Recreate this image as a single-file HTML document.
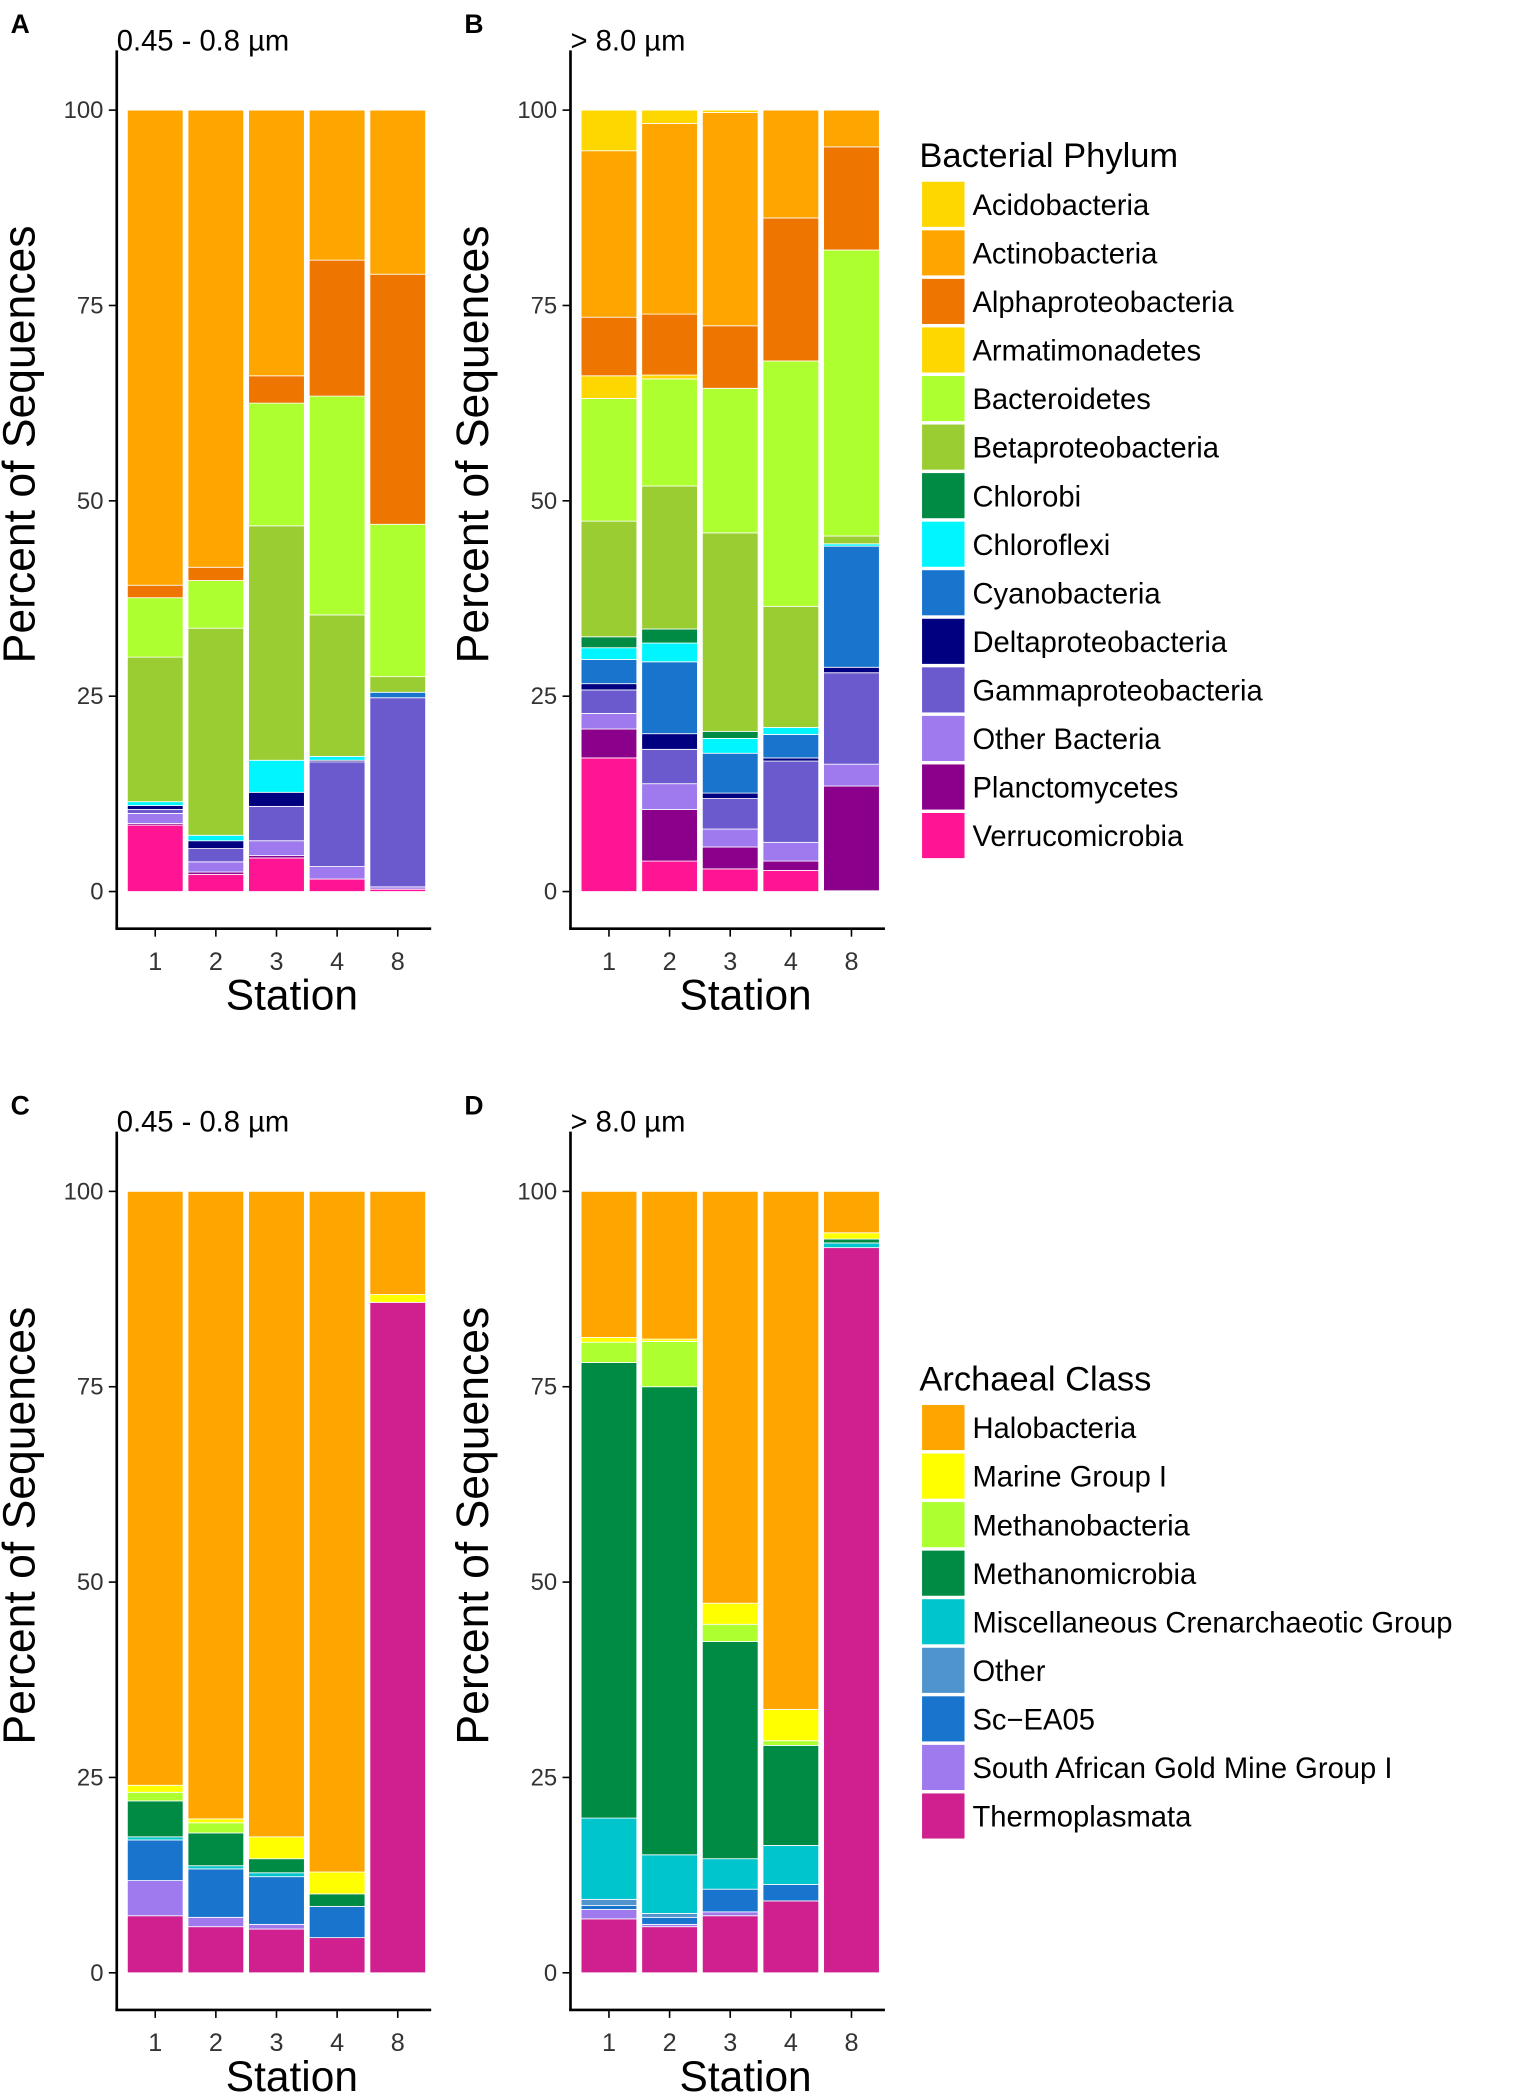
<!DOCTYPE html>
<html><head><meta charset="utf-8"><style>
html,body{margin:0;padding:0;background:#fff;}
svg{display:block;font-family:"Liberation Sans",Arial,sans-serif;}
</style></head><body>
<svg id="fig" width="1535" height="2093" viewBox="0 0 1157 1577.6" xmlns="http://www.w3.org/2000/svg"></svg>
<script>
const stations = ["1","2","3","4","8"];
const yTicks = [0,25,50,75,100];
const bacTaxa = ["Verrucomicrobia","Planctomycetes","Other Bacteria","Gammaproteobacteria","Deltaproteobacteria","Cyanobacteria","Chloroflexi","Chlorobi","Betaproteobacteria","Bacteroidetes","Armatimonadetes","Alphaproteobacteria","Actinobacteria","Acidobacteria"];
const bacColors = ["#FF1493","#8B008B","#9F79EE","#6A5ACD","#000080","#1874CD","#00F5FF","#008B45","#9ACD32","#ADFF2F","#FFD700","#EE7600","#FFA500","#FFD700"];
const bacA = [
 [8.5,2.2,4.3,1.6,0.3],[0.2,0.3,0.3,0,0],[1.3,1.3,1.9,1.6,0.3],[0.5,1.7,4.4,13.4,24.2],
 [0.5,1.0,1.8,0.2,0],[0,0,0,0,0.7],[0.5,0.7,4.1,0.5,0],[0,0,0,0,0],
 [18.5,26.5,30,18.1,2],[7.6,6.1,15.7,28,19.5],[0,0,0,0,0],[1.6,1.7,3.5,17.4,32],
 [60.8,58.5,34,19.2,21],[0,0,0,0,0]];
const bacB = [
 [17.1,3.9,2.9,2.7,0.1],[3.7,6.6,2.8,1.2,13.4],[2.0,3.3,2.3,2.4,2.8],[3.0,4.4,3.9,10.4,11.7],
 [0.8,2.0,0.7,0.4,0.7],[3.1,9.2,5.1,3.0,15.5],[1.5,2.4,1.9,0.9,0.3],[1.4,1.8,0.9,0,0],
 [14.8,18.3,25.4,15.5,1.0],[15.7,13.7,18.5,31.4,36.6],[2.9,0.5,0,0,0],[7.5,7.8,8.0,18.3,13.2],
 [21.3,24.4,27.3,13.8,4.7],[5.2,1.7,0.3,0,0]];
const arcTaxa = ["Thermoplasmata","South African Gold Mine Group I","Sc\u2212EA05","Other","Miscellaneous Crenarchaeotic Group","Methanomicrobia","Methanobacteria","Marine Group I","Halobacteria"];
const arcColors = ["#D02090","#9F79EE","#1874CD","#4F94CD","#00C5CD","#008B45","#ADFF2F","#FFFF00","#FFA500"];
const arcC = [
 [7.3,5.9,5.6,4.5,85.8],[4.5,1.2,0.6,0,0],[5.2,6.2,6.1,4.0,0],[0,0,0,0,0],[0.4,0.4,0.5,0,0],
 [4.6,4.2,1.8,1.6,0],[1.1,1.3,0,0,0],[0.9,0.5,2.8,2.8,1.0],[76,80.3,82.6,87.1,13.2]];
const arcD = [
 [6.9,5.9,7.3,9.2,92.8],[1.2,0.3,0.5,0,0],[0.5,0.9,2.9,2.1,0],[0.8,0.5,0,0,0],[10.4,7.5,3.9,5.0,0.6],
 [58.3,59.9,27.8,12.8,0.5],[2.6,5.8,2.2,0.6,0],[0.6,0.3,2.7,4.0,0.8],[18.7,18.9,52.7,66.3,5.3]];

const NS="http://www.w3.org/2000/svg";
const svg=document.getElementById('fig');
function mk(tag,attrs,parent){const e=document.createElementNS(NS,tag);for(const k in attrs)e.setAttribute(k,attrs[k]);(parent||svg).appendChild(e);return e;}
function txt(s,attrs,parent){const e=mk('text',attrs,parent);e.textContent=s;return e;}

function panel(letter,sub,ox,oy,data,colors,taxa,name){
  const g=mk('g',{});
  
  
  const y100=oy+83, y0=oy+672;
  const yS=v=>y0+(y100-y0)*v/100;
  const xC=i=>ox+29+i*45.7;
  const bw=42;
  let t=txt(letter,{x:ox-80,y:oy+25,'font-size':20,'font-weight':'bold'},g);
  
  
  t=txt(sub,{x:ox,y:oy+38,'font-size':22},g);
  
  
  for(let s=0;s<stations.length;s++){
    let cum=0;
    for(let k=0;k<data.length;k++){
      const v=data[k][s]; if(v<=0)continue;
      const r=mk('rect',{x:xC(s)-bw/2,y:yS(cum+v),width:bw,height:yS(cum)-yS(cum+v),fill:colors[k],stroke:'#fff','stroke-width':0.6},g);
      
      
      cum+=v;
    }
  }
  let a=mk('line',{x1:ox,y1:oy+38,x2:ox,y2:oy+700,stroke:'#000','stroke-width':2},g);
  
  
  a=mk('line',{x1:ox-1,y1:oy+700,x2:ox+237,y2:oy+700,stroke:'#000','stroke-width':2},g);
  
  
  for(const v of yTicks){
    mk('line',{x1:ox-6,y1:yS(v),x2:ox,y2:yS(v),stroke:'#000','stroke-width':1.2},g);
    const tl=txt(String(v),{x:ox-10,y:yS(v)+6,'font-size':18,'text-anchor':'end',fill:'#333'},g);
    
    
  }
  stations.forEach((st,i)=>{
    mk('line',{x1:xC(i),y1:oy+700,x2:xC(i),y2:oy+706,stroke:'#000','stroke-width':1.2},g);
    const tl=txt(st,{x:xC(i),y:oy+731,'font-size':19,'text-anchor':'middle',fill:'#333'},g);
    
    
  });
  t=txt('Station',{x:ox+132,y:oy+761,'font-size':32,'text-anchor':'middle'},g);
  
  
  t=txt('Percent of Sequences',{x:0,y:0,'font-size':34,'text-anchor':'middle',textLength:330,lengthAdjust:'spacingAndGlyphs',transform:`translate(${ox-62},${oy+335}) rotate(-90)`},g);
  
  
}
function legend(title,taxa,colors,x,ty,name){
  const g=mk('g',{});
  
  
  let t=txt(title,{x:x,y:ty,'font-size':26},g);
  
  
  for(let i=0;i<taxa.length;i++){
    const k=taxa.length-1-i;
    const top=ty+11+i*36.6;
    const r=mk('rect',{x:x+2,y:top,width:32,height:34,fill:colors[k]},g);
    
    
    const e=txt(taxa[k],{x:x+40,y:top+25,'font-size':22},g);
    
    
  }
}
panel('A','0.45 - 0.8 \u00b5m',88,0,bacA,bacColors,bacTaxa,'panel-a');
panel('B','> 8.0 \u00b5m',430,0,bacB,bacColors,bacTaxa,'panel-b');
panel('C','0.45 - 0.8 \u00b5m',88,815,arcC,arcColors,arcTaxa,'panel-c');
panel('D','> 8.0 \u00b5m',430,815,arcD,arcColors,arcTaxa,'panel-d');
legend('Bacterial Phylum',bacTaxa,bacColors,693,126,'bacterial-legend');
legend('Archaeal Class',arcTaxa,arcColors,693,1048,'archaeal-legend');
</script>
</body></html>
